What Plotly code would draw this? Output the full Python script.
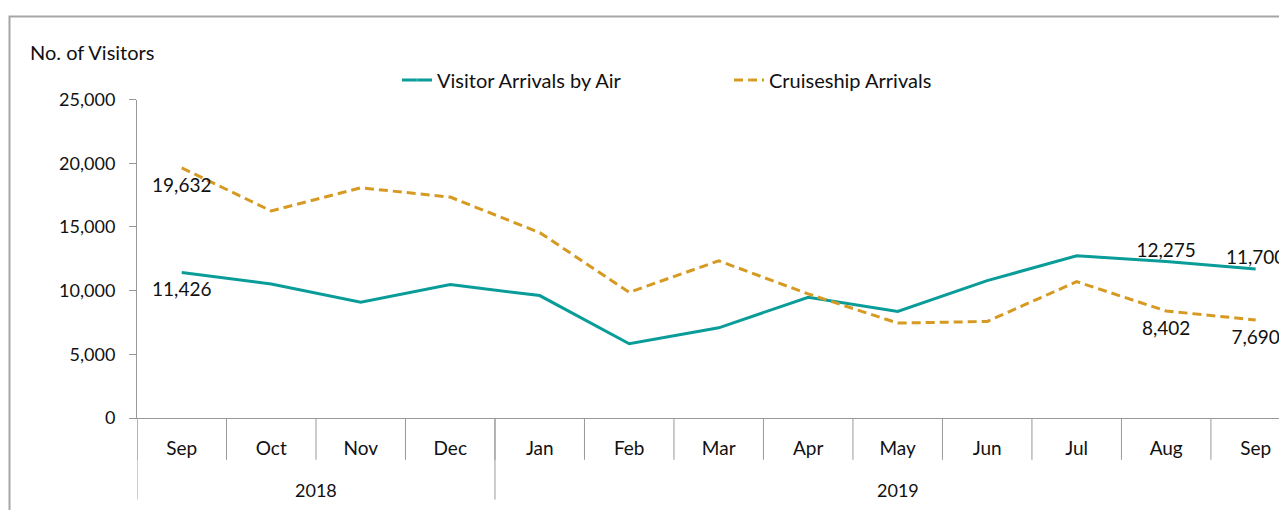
import plotly.graph_objects as go

months = ["Sep", "Oct", "Nov", "Dec", "Jan", "Feb", "Mar", "Apr", "May", "Jun", "Jul", "Aug", "Sep"]
years = ["2018"] * 4 + ["2019"] * 9
air = [11426, 10520, 9090, 10470, 9610, 5830, 7080, 9480, 8360, 10780, 12730, 12275, 11700]
cruise = [19632, 16250, 18070, 17340, 14550, 9870, 12340, 9740, 7450, 7580, 10700, 8402, 7690]
label_idx = [0, 11, 12]
air_pos = {0: "bottom center", 11: "top center", 12: "top center"}
cruise_pos = {0: "bottom center", 11: "bottom center", 12: "bottom center"}

FONT = "Lato"
GRAY = "#999999"
TEAL = "#0A9C99"
GOLD = "#D69A22"
TXT = "#111111"

keys = [f"{m} {y}" for m, y in zip(months, years)]


def labels(vals):
    return [f"{v:,}" if i in label_idx else "" for i, v in enumerate(vals)]


def positions(vals, pos):
    return [pos.get(i, "middle center") for i in range(len(vals))]


def pads(vals, pos):
    # invisible marker size used only to push "bottom" labels a bit further from the line
    return [14 if pos.get(i, "").startswith("bottom") else 0 for i in range(len(vals))]


fig = go.Figure()
fig.add_trace(go.Scatter(
    x=keys, y=air, name="Visitor Arrivals by Air",
    mode="lines+markers+text", line=dict(color=TEAL, width=3),
    marker=dict(size=pads(air, air_pos), opacity=0, color=TEAL),
    text=labels(air), textposition=positions(air, air_pos),
    textfont=dict(family=FONT, size=19, color=TXT),
))
fig.add_trace(go.Scatter(
    x=keys, y=cruise, name="Cruiseship Arrivals",
    mode="lines+markers+text", line=dict(color=GOLD, width=3, dash="9px,5px"),
    marker=dict(size=pads(cruise, cruise_pos), opacity=0, color=GOLD),
    text=labels(cruise), textposition=positions(cruise, cruise_pos),
    textfont=dict(family=FONT, size=19, color=TXT),
))

# the page body adds an 8px offset; figure coordinates = screen - 8
OFF = 8
W, H = 1287 - OFF, 510 - OFF
L, R, T, B = 137 - OFF, 0, 98 - OFF, H - (418 - OFF)
pw = W - L - R
ph = H - T - B


def px(xs):
    return (xs - OFF - L) / pw


def py(ys):
    return (H - B - (ys - OFF)) / ph


shapes = []
for i in range(len(months) + 1):
    shapes.append(dict(type="line", xref="x", yref="paper", x0=i - 0.5, x1=i - 0.5,
                       y0=0, y1=py(460), line=dict(color=GRAY, width=1)))
annotations = []
start = 0
for i in range(1, len(years) + 1):
    if i == len(years) or years[i] != years[start]:
        shapes.append(dict(type="line", xref="x", yref="paper", x0=start - 0.5, x1=start - 0.5,
                           y0=0, y1=py(500), line=dict(color=GRAY, width=1)))
        annotations.append(dict(text=years[start], xref="x", yref="paper",
                                x=(start + i - 1) / 2, y=py(490), xanchor="center",
                                yanchor="middle", showarrow=False,
                                font=dict(family=FONT, size=18, color=TXT)))
        start = i
shapes.append(dict(type="line", xref="x", yref="paper", x0=len(years) - 0.5, x1=len(years) - 0.5,
                   y0=0, y1=py(500), line=dict(color=GRAY, width=1)))

annotations.append(dict(text="No. of Visitors", xref="paper", yref="paper", x=px(28), y=py(50),
                        xanchor="left", yanchor="middle", showarrow=False,
                        font=dict(family=FONT, size=20, color=TXT)))
shapes.append(dict(type="rect", xref="paper", yref="paper", x0=px(9.5), x1=px(1400),
                   y0=py(600), y1=py(14.5), line=dict(color="#A6A6A6", width=2),
                   fillcolor="rgba(0,0,0,0)", layer="below"))

fig.update_layout(
    width=W, height=H, autosize=False,
    margin=dict(l=L, r=R, t=T, b=B),
    paper_bgcolor="white", plot_bgcolor="white",
    font=dict(family=FONT, size=18, color=TXT),
    showlegend=True,
    legend=dict(orientation="h", xref="container", yref="container",
                x=(437 - 40 - OFF) / W, xanchor="left", y=1 - (80 - OFF) / H, yanchor="middle",
                font=dict(family=FONT, size=20, color=TXT), entrywidth=287,
                entrywidthmode="pixels", bgcolor="rgba(0,0,0,0)"),
    xaxis=dict(type="category", categoryorder="array", categoryarray=keys,
               tickvals=keys, ticktext=months, range=[-0.5, 12.35], showline=True,
               linecolor=GRAY, linewidth=1, ticks="", showgrid=False, automargin=False,
               ticklabelstandoff=13, tickfont=dict(family=FONT, size=19, color=TXT)),
    yaxis=dict(range=[0, 25000], dtick=5000, tickformat=",", showline=True, linecolor=GRAY,
               ticks="outside", ticklen=7, tickcolor=GRAY, showgrid=False, zeroline=False,
               automargin=False, ticklabelstandoff=10,
               tickfont=dict(family=FONT, size=18, color=TXT)),
    annotations=annotations,
    shapes=shapes,
)

fig.write_html("out.html")
